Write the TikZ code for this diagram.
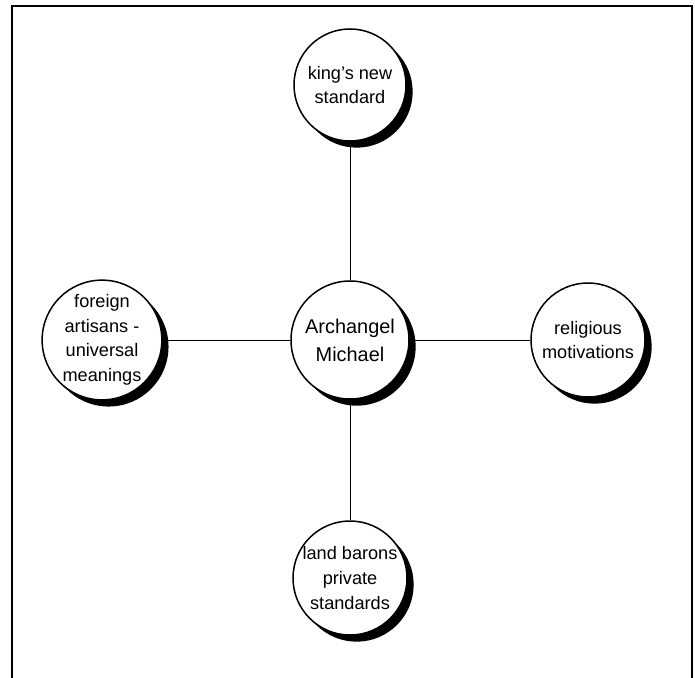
\documentclass[tikz,border=0pt]{standalone}
\usepackage{fontspec}
\setmainfont{Liberation Sans}
\usetikzlibrary{positioning, shadows}

\begin{document}
\begin{tikzpicture}[x=0.03cm, y=-0.03cm, line width=0.3mm, on grid,
  topic/.style={draw, circle, fill=white, line width=0.45mm, align=center, inner sep=0pt,
    minimum size=3.42cm, font=\fontsize{15.5}{21}\selectfont,
    drop shadow={shadow xshift=0.2cm, shadow yshift=-0.2cm, fill=black, opacity=1}}]

\useasboundingbox (0,0) rectangle (695,678);

% frame
\draw[line width=0.6mm] (12,678) -- (12,6) -- (692,6) -- (692,678);

% central topic and the four around it
\node (arch) [topic, minimum size=3.54cm, font=\fontsize{17}{24}\selectfont] at (350,340) {Archangel\\Michael};
\node (king) [topic, minimum size=3.36cm, above=7.65cm of arch] {king's new\\standard};
\node (artisans) [topic, left=7.44cm of arch] {foreign\\artisans -\\universal\\meanings};
\node (relig) [topic, right=7.14cm of arch] {religious\\motivations};
\node (barons) [topic, below=7.14cm of arch] {land barons\\private\\standards};

% connectors
\draw (arch) -- (king);
\draw (arch) -- (artisans);
\draw (arch) -- (relig);
\draw (arch) -- (barons);
\end{tikzpicture}
\end{document}
